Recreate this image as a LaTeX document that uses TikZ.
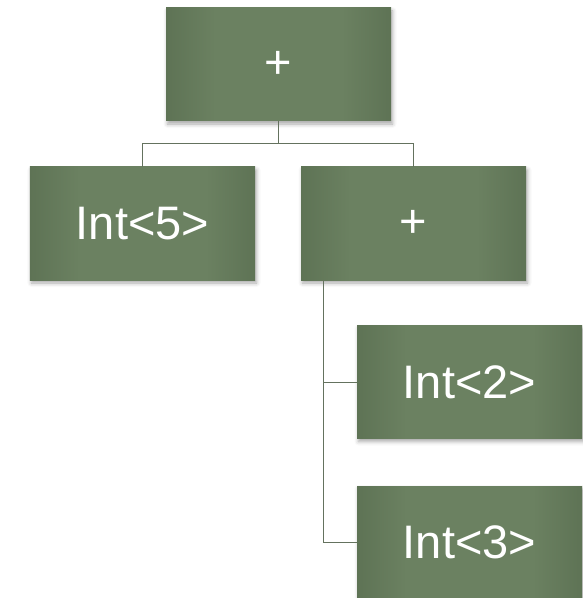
\documentclass[tikz,border=0pt]{standalone}
\usepackage{fontspec}
\setmainfont{Liberation Sans}
\usetikzlibrary{shadows.blur}
\definecolor{boxmid}{RGB}{107,129,97}
\definecolor{boxedge}{RGB}{94,115,85}
\definecolor{linkcol}{RGB}{100,114,94}
\pgfdeclarehorizontalshading{boxshade}{100bp}{color(0bp)=(boxedge); color(25bp)=(boxedge); color(36bp)=(boxmid); color(64bp)=(boxmid); color(75bp)=(boxedge); color(100bp)=(boxedge)}
\tikzset{
  treebox/.style={rectangle, minimum width=225bp, minimum height=113bp, inner sep=0pt,
    shading=boxshade, text=white, font=\fontsize{47bp}{56bp}\selectfont,
    blur shadow={shadow xshift=1.5bp, shadow yshift=-3bp, shadow blur radius=4bp, shadow opacity=35}},
  link/.style={draw=linkcol, line width=1bp}
}
\begin{document}
\begin{tikzpicture}[x=1bp,y=-1bp]
\useasboundingbox (0,0) rectangle (583,598);
\clip (0,0) rectangle (583,598);
\node[treebox] (top) at (278.5,64.5) {+};
\node[treebox] (int5) at (142.5,223.5) {Int<5>};
\node[treebox] (plus) at (413.5,223.5) {+};
\node[treebox] (int2) at (469.5,382) {Int<2>};
\node[treebox] (int3) at (469.5,542.5) {Int<3>};
\coordinate (j) at (278.5,144);
\coordinate (s) at (323,280);
\draw[link] (top.south) -- (j) -| (int5.north);
\draw[link] (j) -| (plus.north);
\draw[link] (s) |- (int2.west);
\draw[link] (s) |- (int3.west);
\end{tikzpicture}
\end{document}
